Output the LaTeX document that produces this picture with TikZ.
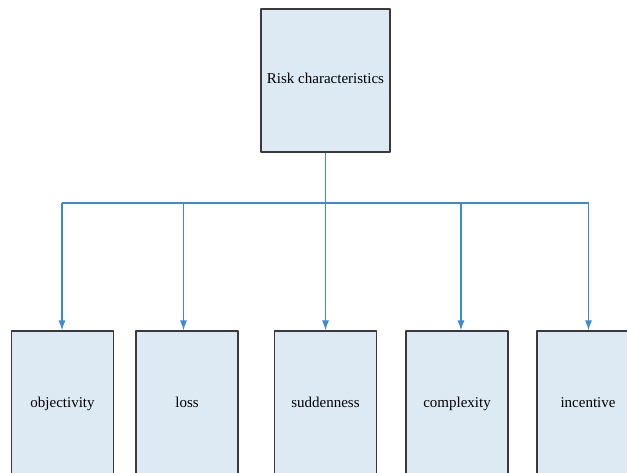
\documentclass[tikz,border=0pt]{standalone}
\usepackage{fontspec}
\setmainfont{Liberation Serif}
\usetikzlibrary{arrows.meta,positioning}
\definecolor{boxfill}{HTML}{DDE9F3}
\definecolor{boxline}{HTML}{3A3A3A}
\definecolor{linkblue}{HTML}{3A8BCF}
\begin{document}
\begin{tikzpicture}[x=1pt, y=1pt, font=\fontsize{15}{18}\selectfont, line join=round, >={Latex[length=10pt,width=7pt]},
  box/.style={draw=boxline, fill=boxfill, line width=1.1pt, inner sep=0pt, text height=10pt, text depth=3pt, minimum width=102pt, minimum height=146pt},
  link/.style={draw=linkblue, line width=1.3pt}]
\useasboundingbox (0,0) rectangle (627,-473);
\clip (0,0) rectangle (627,-473);
\node[box, minimum width=129pt, minimum height=143pt] (risk) at (325.5,-80.5) {Risk characteristics};
\node[box] (obj) at (62.5,-404) {objectivity};
\node[box] (loss) at (187,-404) {loss};
\node[box] (sud) at (325.5,-404) {suddenness};
\node[box] (cpx) at (457,-404) {complexity};
\node[box] (inc) at (588,-404) {incentive};
% bus line
\coordinate (bus) at (325.5,-203);
\draw[link] (risk.south) -- (bus);
\draw[link] ([xshift=-0.5pt]obj.north |- bus) -- ([xshift=1pt]inc.north |- bus);
\draw[link,->] ([xshift=-0.5pt]obj.north |- bus) -- ([xshift=-0.5pt]obj.north);
\draw[link,->] ([xshift=-3.5pt]loss.north |- bus) -- ([xshift=-3.5pt]loss.north);
\draw[link,->] (bus) -- (sud.north);
\draw[link,->] ([xshift=4pt]cpx.north |- bus) -- ([xshift=4pt]cpx.north);
\draw[link,->] ([xshift=0.5pt]inc.north |- bus) -- ([xshift=0.5pt]inc.north);
\end{tikzpicture}
\end{document}
